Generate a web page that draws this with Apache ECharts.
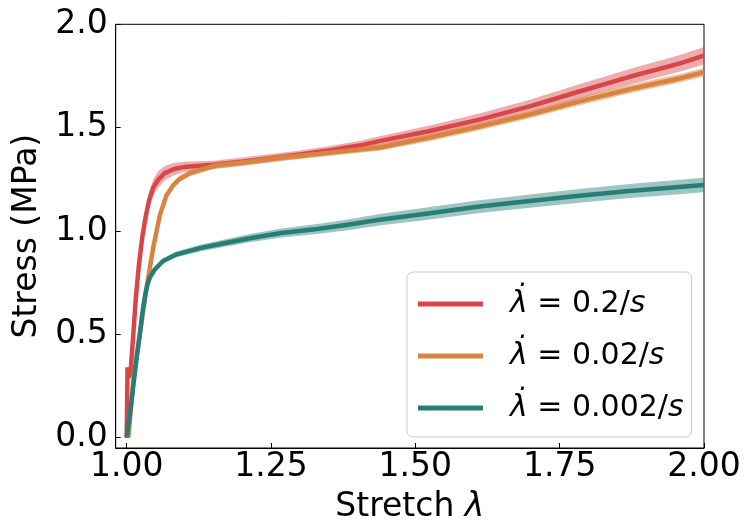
<!DOCTYPE html>
<html>
<head>
<meta charset="utf-8">
<script src="https://cdn.jsdelivr.net/npm/echarts@6/dist/echarts.min.js"></script>
<style>
html,body{margin:0;padding:0;background:#fff;}
#chart{width:744px;height:529px;}
</style>
</head>
<body>
<div id="chart"></div>
<script>
// ---- data ----
const rateLabels = ['0.2', '0.02', '0.002'];
const xTicks = [1.0, 1.25, 1.5, 1.75, 2.0];
const yTicks = [0.0, 0.5, 1.0, 1.5, 2.0];

const stretchRed = [1.000,1.0015,1.004,1.007,1.011,1.016,1.021,1.027,1.033,1.039,1.046,1.055,1.066,1.082,1.10,1.15,1.20,1.25,1.30,1.35,1.40,1.44,1.525,1.611,1.698,1.784,1.871,1.957,2.0];
const stressRed  = [0.00,0.34,0.29,0.33,0.48,0.68,0.83,0.97,1.07,1.15,1.21,1.25,1.28,1.30,1.31,1.32,1.335,1.352,1.37,1.39,1.412,1.436,1.484,1.539,1.603,1.675,1.746,1.81,1.848];
const stdRed     = [0,0.005,0.01,0.01,0.015,0.02,0.025,0.03,0.035,0.04,0.04,0.04,0.035,0.03,0.025,0.02,0.02,0.02,0.02,0.02,0.022,0.024,0.026,0.03,0.032,0.035,0.038,0.04,0.042];

const stretchOrange = [1.003,1.0115,1.023,1.0346,1.046,1.0576,1.069,1.0806,1.0922,1.11,1.127,1.155,1.21,1.268,1.33,1.383,1.438,1.525,1.611,1.698,1.784,1.871,1.957,2.0];
const stressOrange  = [0.00,0.28,0.505,0.728,0.92,1.078,1.173,1.221,1.253,1.28,1.295,1.318,1.335,1.356,1.372,1.388,1.404,1.452,1.505,1.563,1.627,1.686,1.738,1.768];
const stdOrange     = [0,0.01,0.012,0.015,0.015,0.015,0.015,0.015,0.015,0.015,0.015,0.015,0.015,0.015,0.015,0.016,0.016,0.017,0.018,0.018,0.019,0.02,0.02,0.02];

const stretchTeal = [1.000,1.006,1.0115,1.017,1.023,1.028,1.032,1.036,1.0403,1.049,1.063,1.0865,1.127,1.173,1.2135,1.268,1.33,1.383,1.438,1.525,1.611,1.698,1.784,1.871,1.957,2.0];
const stressTeal  = [0.0,0.12,0.25,0.38,0.505,0.62,0.69,0.74,0.776,0.815,0.855,0.887,0.917,0.943,0.965,0.99,1.01,1.03,1.054,1.086,1.118,1.145,1.17,1.193,1.213,1.222];
const stdTeal     = [0,0.003,0.005,0.005,0.005,0.006,0.006,0.007,0.008,0.01,0.012,0.014,0.016,0.018,0.02,0.022,0.024,0.026,0.028,0.03,0.031,0.032,0.033,0.034,0.035,0.035];

// ---- chart ----
const FONT = 'DejaVu Sans';
const names = rateLabels.map(r => 'λ̇ = ' + r + '/s');
const groups = [
  {name: names[0], xs: stretchRed, ys: stressRed, sd: stdRed, color: '#d8464a', band: 'rgba(216,70,74,0.45)'},
  {name: names[1], xs: stretchOrange, ys: stressOrange, sd: stdOrange, color: '#d8843f', band: 'rgba(216,132,63,0.5)'},
  {name: names[2], xs: stretchTeal, ys: stressTeal, sd: stdTeal, color: '#267e76', band: 'rgba(38,126,118,0.45)'}
];

const series = [];
groups.forEach(g => {
  const bandData = g.xs.map((x, i) => [x, g.ys[i] - g.sd[i], g.ys[i] + g.sd[i]]);
  series.push({
    type: 'custom',
    name: g.name + ' band',
    data: bandData,
    encode: {x: 0, y: [1, 2]},
    silent: true,
    renderItem: function (params, api) {
      if (params.dataIndex !== 0) return null;
      const upper = bandData.map(d => api.coord([d[0], d[2]]));
      const lower = bandData.map(d => api.coord([d[0], d[1]])).reverse();
      return {
        type: 'polygon',
        shape: {points: upper.concat(lower)},
        style: {fill: g.band, stroke: null}
      };
    }
  });
  series.push({
    type: 'line',
    name: g.name,
    data: g.xs.map((x, i) => [x, g.ys[i]]),
    showSymbol: false,
    symbol: 'none',
    color: g.color,
    lineStyle: {color: g.color, width: 4.5},
    silent: true
  });
});

const chart = echarts.init(document.getElementById('chart'), null, {renderer: 'canvas'});
chart.setOption({
  animation: false,
  backgroundColor: '#ffffff',
  grid: {
    left: 115.7, right: 40, top: 24.3, bottom: 75.7,
    show: true, borderColor: '#000', borderWidth: 1, backgroundColor: 'transparent'
  },
  xAxis: {
    type: 'value', min: 0.981, max: 2.0,
    name: 'Stretch {i|λ}', nameLocation: 'middle', nameGap: 43,
    nameTextStyle: {fontFamily: FONT, fontSize: 33, color: '#000',
      rich: {i: {fontFamily: FONT, fontSize: 33, fontStyle: 'italic', color: '#000'}}},
    axisLine: {show: true, onZero: false, lineStyle: {color: '#000', width: 1}},
    axisTick: {show: true, inside: true, length: 5, customValues: xTicks, lineStyle: {color: '#000', width: 1}},
    axisLabel: {customValues: xTicks, margin: 3, fontFamily: FONT, fontSize: 33, color: '#000',
      formatter: v => v.toFixed(2)},
    splitLine: {show: false}
  },
  yAxis: {
    type: 'value', min: -0.05, max: 2.0,
    name: 'Stress (MPa)', nameLocation: 'middle', nameGap: 70,
    nameTextStyle: {fontFamily: FONT, fontSize: 33, color: '#000'},
    axisLine: {show: true, onZero: false, lineStyle: {color: '#000', width: 1}},
    axisTick: {show: true, inside: true, length: 5, customValues: yTicks, lineStyle: {color: '#000', width: 1}},
    axisLabel: {customValues: yTicks, margin: 8, fontFamily: FONT, fontSize: 33, color: '#000',
      formatter: v => v.toFixed(1)},
    splitLine: {show: false}
  },
  legend: {
    data: names,
    orient: 'vertical',
    left: 407, top: 272,
    icon: 'rect',
    itemWidth: 65, itemHeight: 5,
    itemGap: 22,
    padding: [17, 8, 14, 11],
    backgroundColor: 'rgba(255,255,255,0.8)',
    borderColor: '#cccccc', borderWidth: 1, borderRadius: 6,
    selectedMode: false,
    formatter: function (name) {
      const r = rateLabels[names.indexOf(name)];
      return '{l|λ̇} = ' + r + '/{i|s}';
    },
    textStyle: {
      fontFamily: FONT, fontSize: 30, color: '#000', lineHeight: 30,
      padding: [0, 0, 0, 22],
      rich: {
        l: {fontFamily: FONT, fontSize: 30, fontStyle: 'italic', color: '#000', lineHeight: 30},
        i: {fontFamily: FONT, fontSize: 30, fontStyle: 'italic', color: '#000', lineHeight: 30}
      }
    }
  },
  series: series
});
</script>
</body>
</html>
